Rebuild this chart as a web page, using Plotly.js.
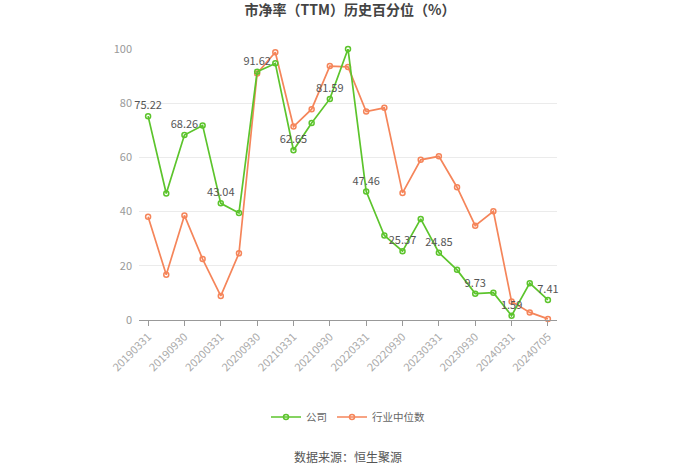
<!DOCTYPE html>
<html><head><meta charset="utf-8">
<script src="https://cdn.plot.ly/plotly-3.0.1.min.js"></script>
<style>html,body{margin:0;padding:0;background:#fff;}#chart{width:700px;height:474px;}</style>
</head><body><div id="chart"></div>
<script>
const dates = ["20190331","20190630","20190930","20191231","20200331","20200630","20200930","20201231","20210331","20210630","20210930","20211231","20220331","20220630","20220930","20221231","20230331","20230630","20230930","20231231","20240331","20240630","20240705"];
const company = [75.22,46.7,68.26,71.8,43.04,39.5,91.62,94.7,62.65,72.7,81.59,100,47.46,31.2,25.37,37.3,24.85,18.5,9.73,10.1,1.59,13.6,7.41];
const industry = [38.1,16.7,38.6,22.5,8.9,24.6,91.0,98.8,71.4,77.8,93.7,93.4,76.9,78.3,46.9,59.1,60.4,49.0,34.8,40.1,6.8,2.8,0.4];
const tickLabels = ["20190331","20190930","20200331","20200930","20210331","20210930","20220331","20220930","20230331","20230930","20240331","20240705"];
const yTicks = [0,20,40,60,80,100];

const green = "#5cc42c", orange = "#f5855a";
const font = "Noto Sans CJK SC, sans-serif";
const labels = company.map((v,i)=> i%2===0 ? v.toFixed(2) : "");

const traces = [
  {x: dates, y: industry, name: "行业中位数", type: "scatter", mode: "lines+markers",
   line: {color: orange, width: 1.7}, marker: {symbol: "circle-open", size: 5, color: orange, line: {width: 1.5}},
   cliponaxis: false},
  {x: dates, y: company, name: "公司", type: "scatter", mode: "lines+markers+text",
   text: labels, textposition: "top center", textfont: {family: font, size: 11, color: "#555"},
   line: {color: green, width: 1.7}, marker: {symbol: "circle-open", size: 5, color: green, line: {width: 1.5}},
   cliponaxis: false}
];

const layout = {
  width: 700, height: 474,
  margin: {l: 139, r: 143, t: 49, b: 154},
  paper_bgcolor: "#fff", plot_bgcolor: "#fff",
  font: {family: font, color: "#999", size: 11},
  title: {text: "<b>市净率（TTM）历史百分位（%）</b>", x: 0.5, xanchor: "center", y: 0.978, yanchor: "middle",
          font: {family: font, size: 14, color: "#444"}},
  showlegend: true,
  legend: {orientation: "h", x: 0.5, xanchor: "center", y: -0.358, yanchor: "middle", itemwidth: 30,
           traceorder: "reversed", font: {family: font, size: 10.5, color: "#666"}},
  xaxis: {type: "category", categoryorder: "array", categoryarray: dates, range: [-0.5, 22.5],
          tickmode: "array", tickvals: tickLabels, ticktext: tickLabels, tickangle: -45,
          showgrid: false, showline: true, linecolor: "#999", linewidth: 1,
          ticks: "outside", ticklen: 5, tickcolor: "#999",
          tickfont: {family: font, size: 11, color: "#aaa"}, zeroline: false, fixedrange: true},
  yaxis: {range: [0, 100], tickmode: "array", tickvals: yTicks, showgrid: true, gridcolor: "#ebebeb",
          zeroline: false, showline: false, ticks: "", ticklabelstandoff: 6,
          tickfont: {family: font, size: 11, color: "#999"}, fixedrange: true},
  annotations: [{text: "数据来源：恒生聚源", xref: "paper", yref: "paper", x: 0.5, y: -0.505,
                 xanchor: "center", yanchor: "middle", showarrow: false,
                 font: {family: font, size: 12, color: "#555"}}]
};

Plotly.newPlot("chart", traces, layout, {displayModeBar: false, staticPlot: true});
</script></body></html>
